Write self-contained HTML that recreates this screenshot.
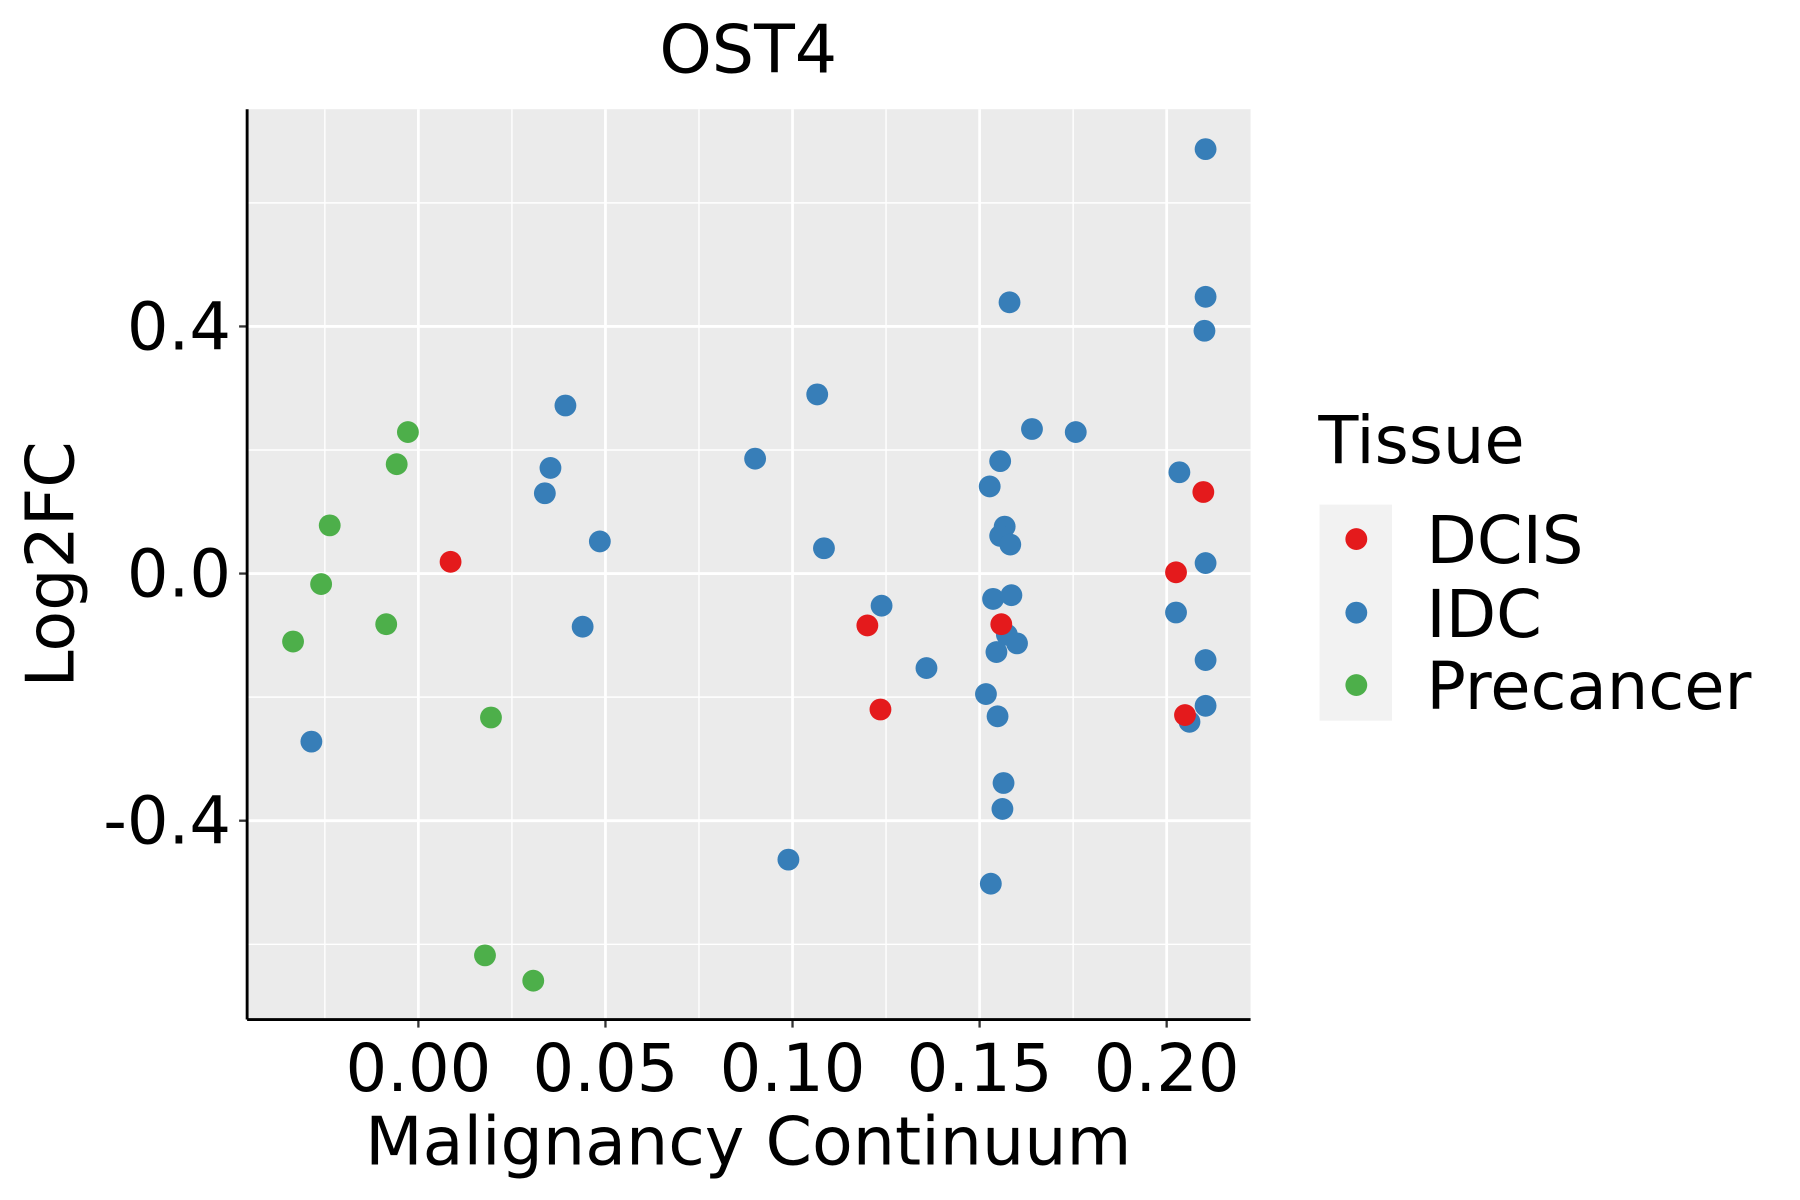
<!DOCTYPE html>
<html><head><meta charset="utf-8"><style>
html,body{margin:0;padding:0;background:#fff;}
svg{display:block;}
text{font-family:"DejaVu Sans","Liberation Sans",sans-serif;}
</style></head><body>
<svg id="chart" width="1800" height="1200" viewBox="0 0 1566 1044" preserveAspectRatio="none" xmlns="http://www.w3.org/2000/svg">
<rect x="215" y="95" width="873" height="792" fill="#EBEBEB"/>
<g id="grid"></g>
<g id="points"></g>
<g id="axes"></g>
<text x="651" y="63" font-size="58" text-anchor="middle">OST4</text>
<text x="651" y="1013" font-size="58" text-anchor="middle">Malignancy Continuum</text>
<text transform="translate(64,491) rotate(-90)" font-size="58" text-anchor="middle">Log2FC</text>
<g>
<text x="1147" y="403" font-size="57">Tissue</text>
<rect x="1148" y="439" width="63" height="188" fill="#F2F2F2"/>
<circle cx="1180" cy="469" r="9.5" fill="#E41A1C"/>
<circle cx="1180" cy="533" r="9.5" fill="#377EB8"/>
<circle cx="1180" cy="596" r="9.5" fill="#4DAF4A"/>
<text x="1241" y="490" font-size="57">DCIS</text>
<text x="1241" y="554" font-size="57">IDC</text>
<text x="1241" y="617" font-size="57">Precancer</text>
</g>
</svg>
<script>
const xTicks=[0,0.05,0.10,0.15,0.20];
const xTickLabels=["0.00","0.05","0.10","0.15","0.20"];
const yTicks=[-0.4,0,0.4];
const yTickLabels=["-0.4","0.0","0.4"];
const xMinor=[-0.025,0.025,0.075,0.125,0.175];
const yMinor=[-0.6,-0.2,0.2,0.6];
const precX=[-0.0335,-0.026,-0.0237,-0.0086,-0.0058,-0.0028,0.0194,0.0178,0.0307];
const precY=[-0.110,-0.017,0.078,-0.082,0.177,0.229,-0.233,-0.618,-0.659];
const idcX=[0.2104,0.2104,0.2101,0.158,0.1066,0.090,0.0393,0.0353,0.0338,0.0485,0.0439,0.1084,0.1238,0.1358,0.0989,-0.0286,0.164,0.1757,0.1555,0.1527,0.1567,0.1555,0.1582,0.1536,0.1585,0.1573,0.16,0.1545,0.1517,0.1548,0.1564,0.1561,0.153,0.2034,0.2104,0.2025,0.2104,0.2104,0.2061];
const idcY=[0.687,0.448,0.393,0.439,0.290,0.186,0.272,0.171,0.130,0.052,-0.086,0.041,-0.052,-0.153,-0.463,-0.272,0.234,0.229,0.182,0.141,0.076,0.061,0.047,-0.041,-0.035,-0.099,-0.113,-0.127,-0.195,-0.231,-0.339,-0.381,-0.502,0.164,0.017,-0.063,-0.140,-0.214,-0.240];
const dcisX=[0.0086,0.120,0.1235,0.1558,0.2098,0.2025,0.2049];
const dcisY=[0.019,-0.084,-0.220,-0.082,0.132,0.002,-0.229];

const NS="http://www.w3.org/2000/svg";
const L=215,R=1088,T=95,B=887;
function sx(v){return 364+v*3255;}
function sy(v){return 499-v*537.5;}
function mk(tag,attrs,parent){const e=document.createElementNS(NS,tag);for(const k in attrs)e.setAttribute(k,attrs[k]);parent.appendChild(e);return e;}
const grid=document.getElementById('grid'),pts=document.getElementById('points'),axes=document.getElementById('axes');
xMinor.forEach(v=>{const e=mk('line',{x1:sx(v),x2:sx(v),y1:T,y2:B,stroke:'#fff','stroke-width':1.2},grid);

});
yMinor.forEach(v=>{const e=mk('line',{x1:L,x2:R,y1:sy(v),y2:sy(v),stroke:'#fff','stroke-width':1.2},grid);

});
xTicks.forEach((v,i)=>{const e=mk('line',{x1:sx(v),x2:sx(v),y1:T,y2:B,stroke:'#fff','stroke-width':2.4},grid);


const t=mk('line',{x1:sx(v),x2:sx(v),y1:B,y2:B+7,stroke:'#333','stroke-width':2},axes);


const l=mk('text',{x:sx(v),y:949,'font-size':57,'text-anchor':'middle'},axes);l.textContent=xTickLabels[i];

});
yTicks.forEach((v,i)=>{const e=mk('line',{x1:L,x2:R,y1:sy(v),y2:sy(v),stroke:'#fff','stroke-width':2.4},grid);


const t=mk('line',{x1:L-7,x2:L,y1:sy(v),y2:sy(v),stroke:'#333','stroke-width':2},axes);


const l=mk('text',{x:201,y:sy(v)+20,'font-size':57,'text-anchor':'end'},axes);l.textContent=yTickLabels[i];

});
const xa=mk('line',{x1:L,x2:R,y1:B,y2:B,stroke:'#000','stroke-width':2.5},axes);


const ya=mk('line',{x1:L,x2:L,y1:T,y2:B,stroke:'#000','stroke-width':2.5},axes);


function series(xs,ys,col,name){xs.forEach((x,i)=>{const c=mk('circle',{cx:sx(x),cy:sy(ys[i]),r:9.5,fill:col},pts);

});}
series(precX,precY,'#4DAF4A','point-precancer');
series(idcX,idcY,'#377EB8','point-idc');
series(dcisX,dcisY,'#E41A1C','point-dcis');
</script>
</body></html>
